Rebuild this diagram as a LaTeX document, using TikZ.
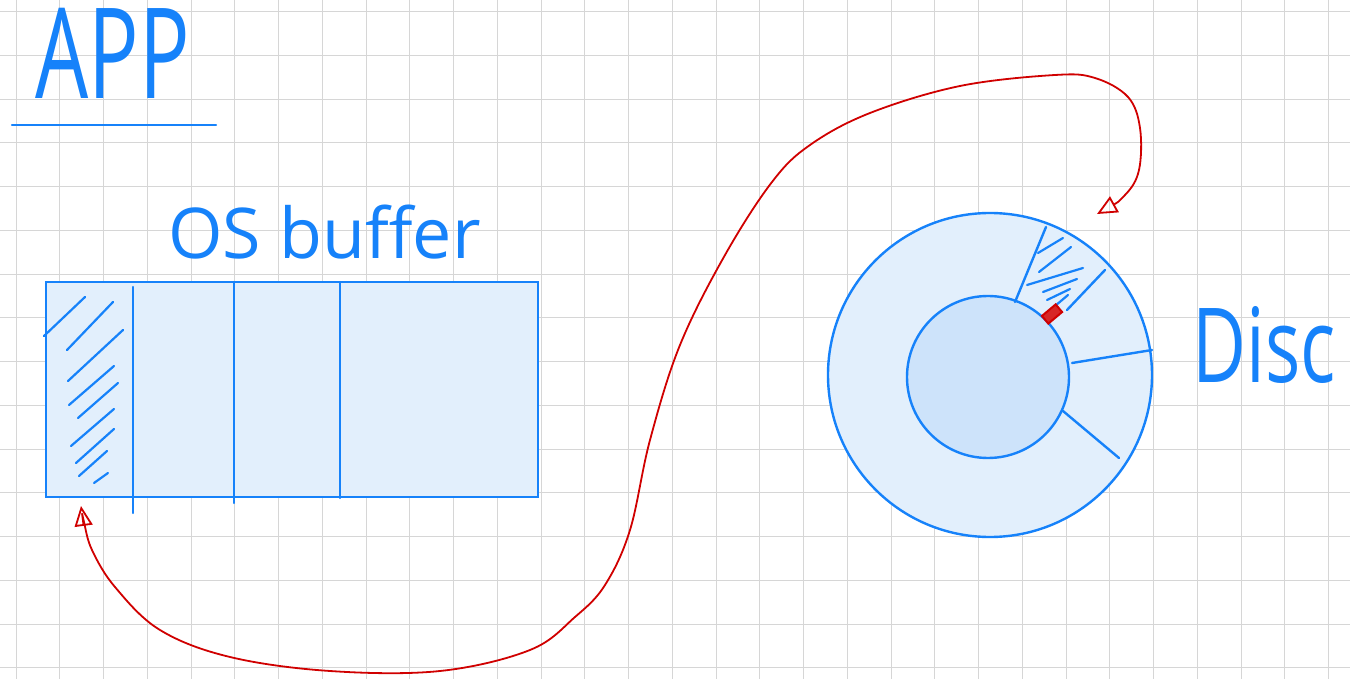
\documentclass[tikz,border=0pt]{standalone}
\usepackage{fontspec}
\setmainfont{Open Sans}
\usetikzlibrary{arrows.meta}
\definecolor{inkblue}{RGB}{22,130,250}
\definecolor{paleblue}{RGB}{226,239,252}
\definecolor{platter}{RGB}{205,227,250}
\definecolor{inkred}{RGB}{208,0,0}
\definecolor{gridgray}{RGB}{214,214,214}
\tikzset{
  gridline/.style={gridgray, line width=0.5pt},
  ink/.style={inkblue, line width=1.2pt, line cap=round},
  hatch/.style={inkblue, line width=1.1pt, line cap=round},
  handtext/.style={inkblue, inner sep=0pt},
  headbox/.style={draw=inkred, fill=inkred!85, line width=1pt, minimum width=9pt, minimum height=5pt, inner sep=0pt},
  readarrow/.style={inkred, line width=0.9pt, line join=round,
    {Triangle[open,length=10pt,width=9pt]}-{Triangle[open,length=10pt,width=9pt]}}
}
\begin{document}
\begin{tikzpicture}[x=0.5pt, y=-0.5pt]
  \useasboundingbox (0,0) rectangle (1350,679);
  \fill[white] (0,0) rectangle (1350,679);
  % squared paper
  \foreach \i in {0,...,30}
    \draw[gridline] ({16+43.75*\i},0) -- ({16+43.75*\i},679);
  \foreach \j in {0,...,15}
    \draw[gridline] (0,{11.7+43.75*\j}) -- (1350,{11.7+43.75*\j});

  % title
  \node[handtext, anchor=base west, font=\fontsize{42}{46}\selectfont] (app) at (35,99) {\scalebox{1}[1.5]{APP}};
  \draw[ink] (12,125) -- (216,125);

  % buffer
  \node[handtext, anchor=base west, font=\fontsize{35}{40}\selectfont] (osbuf) at (168,259) {OS buffer};
  \draw[ink, fill=paleblue] (46,282) rectangle (538,497);
  \draw[ink] (133,287) -- (133,513);
  \draw[ink] (234,282) -- (234,503);
  \draw[ink] (340,282) -- (340,498);
  \foreach \a/\b in {{(44,336)}/{(85,297)}, {(67,350)}/{(113,302)}, {(68,381)}/{(123,330)},
                     {(69,405)}/{(114,366)}, {(78,418)}/{(118,383)}, {(71,446)}/{(114,409)},
                     {(76,463)}/{(114,429)}, {(79,476)}/{(107,451)}, {(94,483)}/{(108,473)}}
    \draw[hatch] \a -- \b;
  \coordinate (slot) at (81,506);

  % disc
  \draw[ink, fill=paleblue] (990,375) circle[radius=162];
  \draw[ink, fill=platter] (988,377) circle[radius=81];
  \draw[ink] (1015,302) -- (1046,227);
  \draw[ink] (1067,310) -- (1105,270);
  \draw[ink] (1072,363) -- (1152,350);
  \draw[ink] (1063,411) -- (1119,458);
  \foreach \a/\b in {{(1038,253)}/{(1063,238)}, {(1039,272)}/{(1071,247)}, {(1027,285)}/{(1083,268)},
                     {(1043,292)}/{(1077,279)}, {(1047,300)}/{(1070,289)}, {(1055,306)}/{(1068,295)}}
    \draw[hatch] \a -- \b;
  \node[headbox, rotate=40] (head) at (1052,314) {};
  \node[handtext, anchor=base west, font=\fontsize{37}{42}\selectfont] (disc) at (1192,382) {\scalebox{1}[1.4]{Disc}};
  \coordinate (armtip) at (1097,214);

  % read path
  \draw[readarrow] plot[smooth, tension=0.6] coordinates {
    (armtip) (1125,195) (1139,170) (1140,128) (1128,97) (1095,78) (1055,75)
    (960,86) (870,113) (810,145) (772,182) (725,255) (680,345)
    (650,440) (630,530) (605,585) (575,617) (530,650) (440,671)
    (330,671) (230,657) (160,630) (115,587) (92,550) (84,522) (slot)};
\end{tikzpicture}
\end{document}
